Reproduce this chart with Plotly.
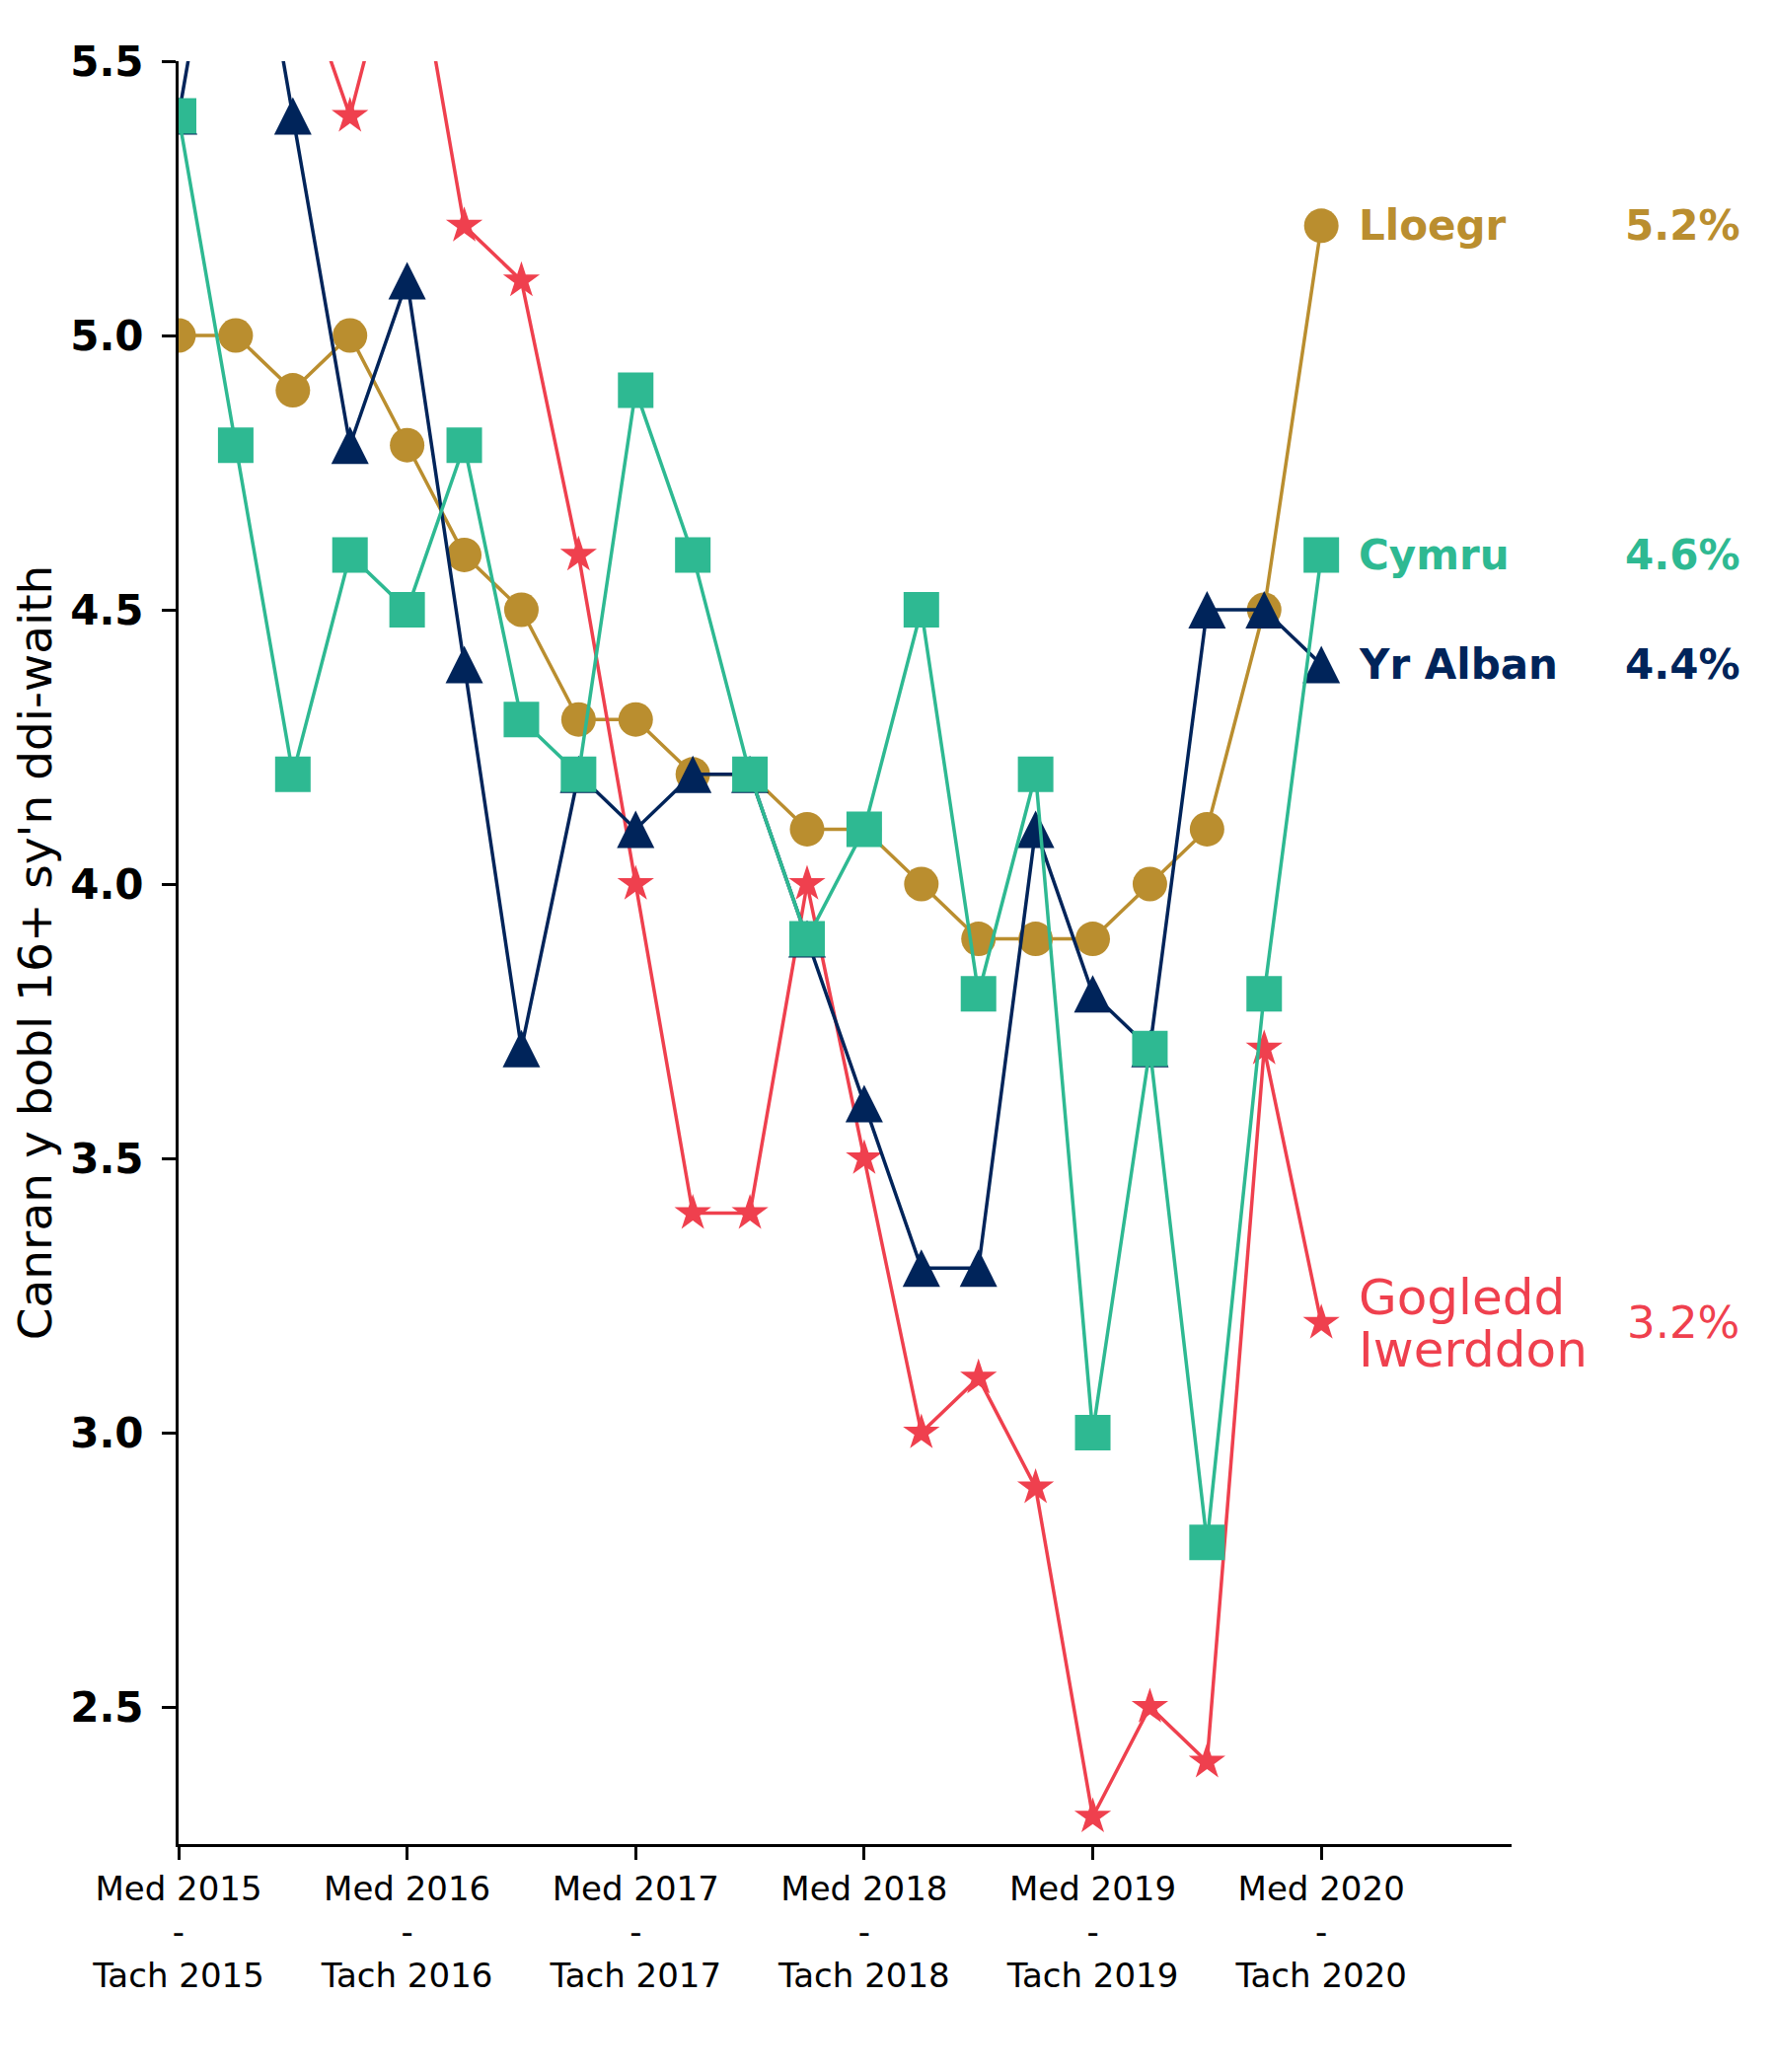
import plotly.graph_objects as go

# ---- data ----
x_index = list(range(21))
tick_positions = [0, 4, 8, 12, 16, 20]
tick_labels = ["Med 2015<br>-<br>Tach 2015", "Med 2016<br>-<br>Tach 2016",
               "Med 2017<br>-<br>Tach 2017", "Med 2018<br>-<br>Tach 2018",
               "Med 2019<br>-<br>Tach 2019", "Med 2020<br>-<br>Tach 2020"]

lloegr = [5.0, 5.0, 4.9, 5.0, 4.8, 4.6, 4.5, 4.3, 4.3, 4.2, 4.2, 4.1, 4.1, 4.0, 3.9, 3.9, 3.9, 4.0, 4.1, 4.5, 5.2]
cymru = [5.4, 4.8, 4.2, 4.6, 4.5, 4.8, 4.3, 4.2, 4.9, 4.6, 4.2, 3.9, 4.1, 4.5, 3.8, 4.2, 3.0, 3.7, 2.8, 3.8, 4.6]
yr_alban = [5.4, 6.0, 5.4, 4.8, 5.1, 4.4, 3.7, 4.2, 4.1, 4.2, 4.2, 3.9, 3.6, 3.3, 3.3, 4.1, 3.8, 3.7, 4.5, 4.5, 4.4]
gogledd_iwerddon = [6.0, 6.0, 5.7, 5.4, 5.8, 5.2, 5.1, 4.6, 4.0, 3.4, 3.4, 4.0, 3.5, 3.0, 3.1, 2.9, 2.3, 2.5, 2.4, 3.7, 3.2]

series_names = ["Lloegr", "Gogledd Iwerddon", "Yr Alban", "Cymru"]
series_values = [lloegr, gogledd_iwerddon, yr_alban, cymru]
series_colors = ["#BA8E2F", "#EF404E", "#00245A", "#2EB992"]

y_title = "Canran y bobl 16+ sy'n ddi-waith"
FONT = "DejaVu Sans"

# marker styles per series
marker_styles = {
    "Lloegr": dict(symbol="circle", size=35),
    "Gogledd Iwerddon": dict(symbol="star", size=28),
    "Yr Alban": dict(symbol="arrow-down", size=38, angle=180, standoff=19),
    "Cymru": dict(symbol="square", size=36),
}

fig = go.Figure()
for name, vals, col in zip(series_names, series_values, series_colors):
    marker = dict(color=col, line=dict(width=0), **marker_styles[name])
    fig.add_trace(go.Scatter(
        x=x_index, y=vals, mode="lines+markers", name=name,
        line=dict(color=col, width=3.5, backoff=0), marker=marker, showlegend=False,
    ))

# end labels
PCT_X = 1.1725  # paper x of right edge of value labels
for name, vals, col in zip(series_names, series_values, series_colors):
    last = vals[-1]
    if name == "Gogledd Iwerddon":
        words = name.split(" ")
        for k, w in enumerate(words):
            fig.add_annotation(x=x_index[-1], y=last, xref="x", yref="y", text=w,
                               xanchor="left", yanchor="middle", xshift=36,
                               yshift=26 if k == 0 else -27, showarrow=False,
                               font=dict(family=FONT, size=50, color=col))
        pct_font = dict(family=FONT, size=45, color=col)
    else:
        fig.add_annotation(x=x_index[-1], y=last, xref="x", yref="y", text=name,
                           xanchor="left", yanchor="middle", xshift=36, showarrow=False,
                           font=dict(family=FONT, size=42, color=col, weight="bold"))
        pct_font = dict(family=FONT, size=42, color=col, weight="bold")
    fig.add_annotation(x=PCT_X, y=last, xref="paper", yref="y", text=f"{last:.1f}%",
                       xanchor="right", yanchor="middle", showarrow=False, font=pct_font)

fig.update_layout(
    width=1800, height=2100,
    margin=dict(l=173, r=276, t=54, b=239),
    plot_bgcolor="white", paper_bgcolor="white",
    font=dict(family=FONT, color="black"),
)
fig.update_xaxes(
    range=[0, 23.33], showgrid=False, zeroline=False, automargin=False,
    showline=True, linecolor="black", linewidth=3,
    ticks="outside", ticklen=13, tickwidth=3, tickcolor="black",
    tickvals=tick_positions, ticktext=tick_labels,
    tickfont=dict(family=FONT, size=34, color="black"),
    ticklabelstandoff=0,
)
fig.update_yaxes(
    range=[2.25, 5.5], showgrid=False, zeroline=False, automargin=False,
    showline=True, linecolor="black", linewidth=3,
    ticks="outside", ticklen=14, tickwidth=3, tickcolor="black",
    tickvals=[2.5, 3.0, 3.5, 4.0, 4.5, 5.0, 5.5], tickformat=".1f",
    tickfont=dict(family=FONT, size=42, color="black", weight="bold"),
    ticklabelstandoff=10,
    title=dict(text=y_title, font=dict(family=FONT, size=47, color="black"), standoff=34),
)

fig.write_html("out.html")
